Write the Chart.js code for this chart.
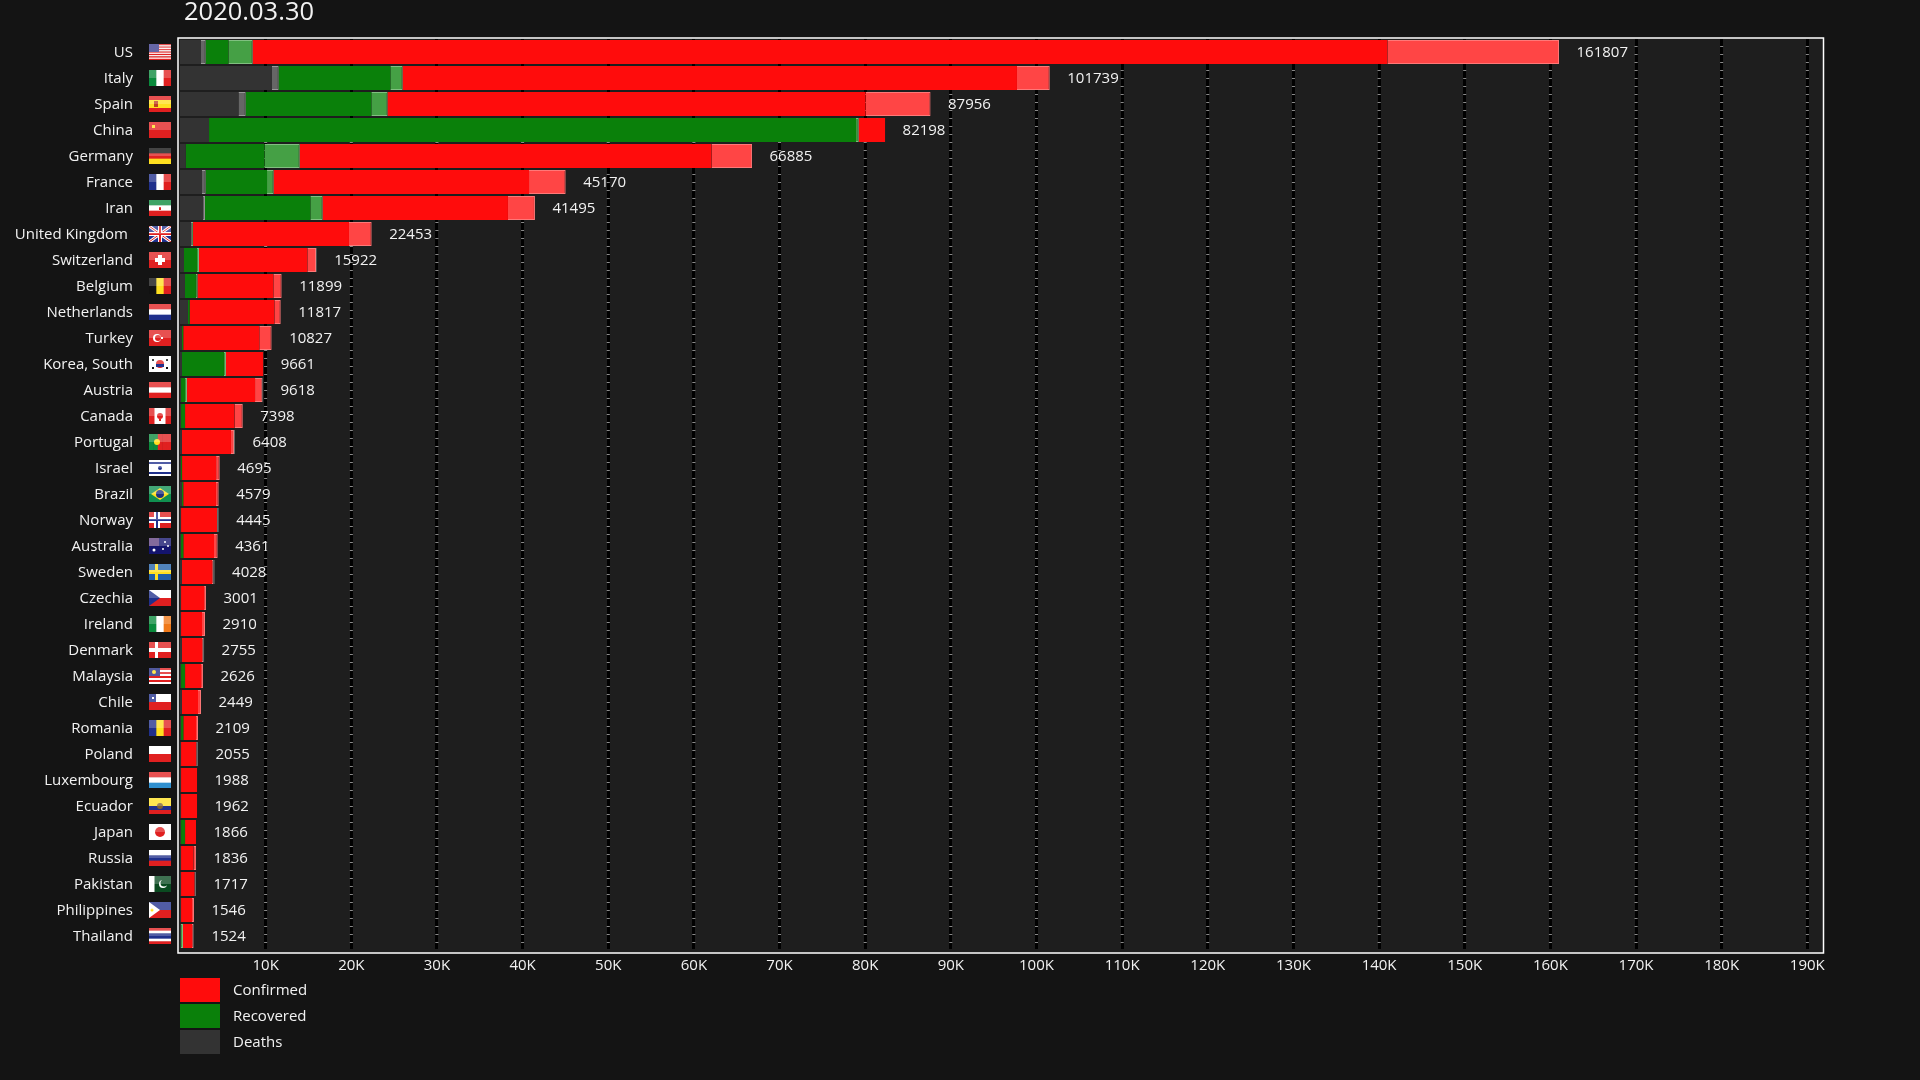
<!DOCTYPE html>
<html>
<head>
<meta charset="utf-8">
<title>2020.03.30</title>
<script src="https://cdn.jsdelivr.net/npm/chart.js@4"></script>
<style>
  html, body { margin: 0; background: #141414; }
  canvas { display: block; }
</style>
</head>
<body>
<canvas id="chart" width="1920" height="1080"></canvas>
<script>
const DATE_LABEL = '2020.03.30';
const countries = ['US', 'Italy', 'Spain', 'China', 'Germany', 'France', 'Iran', 'United Kingdom', 'Switzerland', 'Belgium', 'Netherlands', 'Turkey', 'Korea, South', 'Austria', 'Canada', 'Portugal', 'Israel', 'Brazil', 'Norway', 'Australia', 'Sweden', 'Czechia', 'Ireland', 'Denmark', 'Malaysia', 'Chile', 'Romania', 'Poland', 'Luxembourg', 'Ecuador', 'Japan', 'Russia', 'Pakistan', 'Philippines', 'Thailand'];
const totals = [161807, 101739, 87956, 82198, 66885, 45170, 41495, 22453, 15922, 11899, 11817, 10827, 9661, 9618, 7398, 6408, 4695, 4579, 4445, 4361, 4028, 3001, 2910, 2755, 2626, 2449, 2109, 2055, 1988, 1962, 1866, 1836, 1717, 1546, 1524];
const tickValues = [10000, 20000, 30000, 40000, 50000, 60000, 70000, 80000, 90000, 100000, 110000, 120000, 130000, 140000, 150000, 160000, 170000, 180000, 190000];
const tickLabels = ['10K', '20K', '30K', '40K', '50K', '60K', '70K', '80K', '90K', '100K', '110K', '120K', '130K', '140K', '150K', '160K', '170K', '180K', '190K'];

// stacked from the left: deaths, recovered, then what's left of confirmed. *New = the lighter end piece
const deaths       = [2450, 10740, 6810, 3390, 670, 2570, 2690, 1280, 470, 580, 930, 230, 230, 120, 120, 230, 120, 230, 120, 120, 230, 120, 120, 230, 120, 230, 120, 120, 120, 120, 120, 120, 120, 120, 120];
const deathsNew    = [550, 780, 860, 0, 0, 430, 230, 120, 0, 0, 0, 0, 0, 0, 0, 0, 0, 0, 0, 0, 0, 0, 0, 0, 0, 0, 0, 0, 0, 0, 0, 0, 0, 0, 0];
const recovered    = [2640, 13030, 14660, 75540, 9180, 7160, 12290, 0, 1520, 1280, 200, 150, 4900, 470, 470, 0, 120, 150, 0, 270, 0, 0, 0, 0, 470, 0, 270, 0, 0, 0, 470, 0, 0, 0, 0];
const recoveredNew = [2850, 1450, 1910, 320, 4130, 780, 1450, 120, 230, 200, 0, 0, 230, 230, 0, 0, 0, 0, 0, 0, 0, 0, 0, 0, 0, 0, 0, 0, 0, 0, 0, 0, 0, 0, 230];
const confirmed    = [132470, 71720, 55810, 3070, 48070, 29810, 21630, 18210, 12640, 8830, 9880, 8870, 4350, 7940, 5760, 5720, 3970, 3820, 4200, 3580, 3500, 2690, 2450, 2340, 1870, 1870, 1480, 1750, 1870, 1870, 1280, 1440, 1550, 1280, 1050];
const confirmedNew = [20050, 3830, 7580, 0, 4740, 4280, 3150, 2650, 1020, 980, 750, 1450, 0, 850, 980, 350, 430, 320, 0, 430, 150, 230, 350, 120, 230, 350, 230, 80, 0, 0, 0, 320, 80, 230, 150];
const trailing     = [0, 0, 0, 0, 0, 0, 0, 0, 80, 0, 0, 0, 0, 80, 0, 120, 0, 0, 200, 0, 160, 0, 0, 120, 0, 0, 0, 150, 0, 0, 0, 0, 120, 0, 80];

const legendNames = ['Confirmed', 'Recovered', 'Deaths'];
const legendColors = ['#ff0c0c', '#0a800a', '#333333'];

const FONT = '15px "Open Sans"';
const TEXT = '#f2f2f2';

// flag stripes: [direction, colours], extras drawn on top (22x16 box)
const R = '#e02020', W = '#ffffff', B = '#20308c', G = '#0a8a3c', Y = '#ffe020', K = '#111111';
const flags = {
  'US': ['h', [R, W, R, W, R, W, R, W, R, W, R, W, R], (c) => box(c, 0, 0, 10, 8, '#3c3b8e')],
  'Italy': ['v', [G, W, R]],
  'Spain': ['h', [R, Y, Y, R], (c) => box(c, 5, 5, 4, 6, '#c04020')],
  'China': ['h', [R], (c) => box(c, 3, 3, 3, 3, Y)],
  'Germany': ['h', [K, R, Y]],
  'France': ['v', [B, W, R]],
  'Iran': ['h', [G, W, R], (c) => box(c, 10, 7, 2, 3, R)],
  'United Kingdom': ['h', [B], (c) => {
    line(c, 0, 0, 22, 16, W, 3); line(c, 22, 0, 0, 16, W, 3);
    line(c, 0, 0, 22, 16, R, 1); line(c, 22, 0, 0, 16, R, 1);
    box(c, 9, 0, 4, 16, W); box(c, 0, 6, 22, 4, W);
    box(c, 10, 0, 2, 16, R); box(c, 0, 7, 22, 2, R);
  }],
  'Switzerland': ['h', [R], (c) => { box(c, 9, 3, 4, 10, W); box(c, 6, 6, 10, 4, W); }],
  'Belgium': ['v', [K, Y, R]],
  'Netherlands': ['h', [R, W, B]],
  'Turkey': ['h', [R], (c) => { dot(c, 8, 8, 4, W); dot(c, 9, 8, 3, R); box(c, 12, 7, 2, 2, W); }],
  'Korea, South': ['h', [W], (c) => { dot(c, 11, 8, 4, R); box(c, 7, 8, 8, 3, B); box(c, 3, 3, 2, 2, K); box(c, 17, 3, 2, 2, K); box(c, 3, 11, 2, 2, K); box(c, 17, 11, 2, 2, K); }],
  'Austria': ['h', [R, W, R]],
  'Canada': ['v', [R, W, W, R], (c) => { dot(c, 11, 8, 3, R); box(c, 10, 11, 2, 2, R); }],
  'Portugal': ['v', [G, G, R, R, R], (c) => dot(c, 8, 8, 3, Y)],
  'Israel': ['h', [W], (c) => { box(c, 0, 2, 22, 2, B); box(c, 0, 12, 22, 2, B); dot(c, 11, 8, 2, B); }],
  'Brazil': ['h', ['#109050'], (c) => { tri(c, [[11, 2], [20, 8], [11, 14], [2, 8]], Y); dot(c, 11, 8, 4, '#203080'); }],
  'Norway': ['h', [R], (c) => { box(c, 5, 0, 6, 16, W); box(c, 0, 5, 22, 6, W); box(c, 7, 0, 2, 16, B); box(c, 0, 7, 22, 2, B); }],
  'Australia': ['h', ['#14146e'], (c) => { box(c, 0, 0, 10, 8, '#604080'); dot(c, 5, 12, 1.5, W); dot(c, 16, 4, 1, W); dot(c, 19, 8, 1, W); dot(c, 14, 11, 1, W); }],
  'Sweden': ['h', ['#2060a8'], (c) => { box(c, 6, 0, 3, 16, Y); box(c, 0, 6, 22, 4, Y); }],
  'Czechia': ['h', [W, R], (c) => tri(c, [[0, 0], [11, 8], [0, 16]], B)],
  'Ireland': ['v', [G, W, '#f07818']],
  'Denmark': ['h', [R], (c) => { box(c, 6, 0, 3, 16, W); box(c, 0, 6, 22, 4, W); }],
  'Malaysia': ['h', [R, W, R, W, R, W, R, W], (c) => { box(c, 0, 0, 11, 8, '#202a80'); dot(c, 5, 4, 2, Y); }],
  'Chile': ['h', [W, R], (c) => { box(c, 0, 0, 7, 8, B); box(c, 3, 3, 2, 2, W); }],
  'Romania': ['v', [B, Y, R]],
  'Poland': ['h', [W, R]],
  'Luxembourg': ['h', [R, W, '#3090d0']],
  'Ecuador': ['h', [Y, Y, B, R], (c) => dot(c, 11, 8, 3, '#806030')],
  'Japan': ['h', [W], (c) => dot(c, 11, 8, 5, R)],
  'Russia': ['h', [W, B, R]],
  'Pakistan': ['v', [W, '#0a4a20', '#0a4a20', '#0a4a20'], (c) => { dot(c, 14, 8, 4, W); dot(c, 15, 7, 3.5, '#0a4a20'); }],
  'Philippines': ['h', [B, R], (c) => { tri(c, [[0, 0], [11, 8], [0, 16]], W); dot(c, 3, 8, 1.5, Y); }],
  'Thailand': ['h', [R, W, B, B, W, R]]
};

function box(c, x, y, w, h, col) { c.fillStyle = col; c.fillRect(x, y, w, h); }
function dot(c, x, y, r, col) { c.fillStyle = col; c.beginPath(); c.arc(x, y, r, 0, Math.PI * 2); c.fill(); }
function line(c, x1, y1, x2, y2, col, w) { c.strokeStyle = col; c.lineWidth = w; c.beginPath(); c.moveTo(x1, y1); c.lineTo(x2, y2); c.stroke(); }
function tri(c, pts, col) {
  c.fillStyle = col; c.beginPath();
  pts.forEach((p, i) => i ? c.lineTo(p[0], p[1]) : c.moveTo(p[0], p[1]));
  c.closePath(); c.fill();
}

function drawFlag(c, name, x, y) {
  const [dir, cols, extra] = flags[name];
  c.save();
  c.translate(x, y);
  c.beginPath(); c.rect(0, 0, 22, 16); c.clip();
  cols.forEach((col, i) => {
    c.fillStyle = col;
    if (dir === 'h') c.fillRect(0, i * 16 / cols.length, 22, 16 / cols.length + .5);
    else c.fillRect(i * 22 / cols.length, 0, 22 / cols.length + .5, 16);
  });
  if (extra) extra(c);
  // glossy top half like the icon set
  c.fillStyle = 'rgba(255,255,255,.22)';
  c.fillRect(0, 0, 22, 8);
  c.restore();
}

const boardPlugin = {
  id: 'board',
  afterUpdate(chart) {
    // nudge country names: 1px down, United Kingdom sits further left in the original
    chart.scales.y.getLabelItems().forEach(item => {
      item.options.translation[1] += 1;
      if (item.label === 'United Kingdom') item.options.translation[0] -= 5;
    });
  },
  beforeDraw(chart) {
    const c = chart.ctx;
    c.fillStyle = '#1e1e1e';
    c.fillRect(178, 38, 1646, 915);
  },
  beforeDatasetsDraw(chart) {
    // small grey dashes inside the black grid lines
    const c = chart.ctx, xs = chart.scales.x, a = chart.chartArea;
    c.save();
    c.strokeStyle = '#8a8a8a';
    c.lineWidth = 3;
    c.setLineDash([1, 7]);
    xs.ticks.forEach(t => {
      const px = xs.getPixelForValue(t.value);
      c.beginPath(); c.moveTo(px, a.top + 7); c.lineTo(px, a.bottom); c.stroke();
    });
    c.restore();
  },
  afterDraw(chart) {
    const c = chart.ctx, xs = chart.scales.x, ys = chart.scales.y;
    c.save();
    // frame
    c.strokeStyle = '#ffffff';
    c.lineWidth = 1.5;
    c.strokeRect(178, 38, 1645.5, 915);
    // date
    c.fillStyle = TEXT;
    c.textBaseline = 'middle';
    c.font = '25.5px "Open Sans"';
    c.fillText(DATE_LABEL, 184, 13);
    c.font = FONT;
    countries.forEach((name, i) => {
      const y = ys.getPixelForValue(i);
      let end = 0;
      chart.data.datasets.forEach(d => { end += d.data[i]; });
      c.fillStyle = TEXT;
      c.fillText(totals[i], xs.getPixelForValue(end) + 17.5, y + 1);
      drawFlag(c, name, 149, y - 8);
    });
    // legend
    legendNames.forEach((name, i) => {
      c.fillStyle = legendColors[i];
      c.fillRect(180, 978 + i * 26, 40, 24);
      c.fillStyle = TEXT;
      c.fillText(name, 233, 991 + i * 26);
    });
    c.restore();
  }
};

function segment(label, data, fill, edge) {
  return { label, data, backgroundColor: fill, borderColor: edge, borderWidth: edge ? 1 : 0 };
}

new Chart(document.getElementById('chart'), {
  type: 'bar',
  data: {
    labels: countries,
    datasets: [
      segment('Deaths', deaths, legendColors[2]),
      segment('Deaths new', deathsNew, '#666666', '#999999'),
      segment('Recovered', recovered, legendColors[1]),
      segment('Recovered new', recoveredNew, '#45a045', '#80c080'),
      segment('Confirmed', confirmed, legendColors[0]),
      segment('Confirmed new', confirmedNew, '#ff4545', '#ff7878'),
      segment('Trailing', trailing, '#6a6a6a')
    ]
  },
  options: {
    indexAxis: 'y',
    responsive: false,
    animation: false,
    layout: { autoPadding: false, padding: { top: 39, right: 97, bottom: 101, left: 0 } },
    datasets: { bar: { barPercentage: 24 / 26, categoryPercentage: 1 } },
    plugins: { legend: { display: false }, tooltip: { enabled: false } },
    scales: {
      x: {
        stacked: true,
        min: 0,
        max: 191830,
        afterBuildTicks: (s) => { s.ticks = tickValues.map(value => ({ value })); },
        afterFit: (s) => { s.height = 30; },
        border: { display: false, dash: [7, 1] },
        grid: { color: '#000000', lineWidth: 3, drawTicks: false },
        ticks: {
          autoSkip: false, maxRotation: 0, padding: 8,
          color: TEXT, font: { family: 'Open Sans', size: 15 },
          callback: (v) => tickLabels[tickValues.indexOf(v)]
        }
      },
      y: {
        stacked: true,
        // the big tick padding would otherwise push the plot area down
        afterFit: (s) => { s.width = 180; s.paddingTop = 0; s.paddingBottom = 0; },
        border: { display: false },
        grid: { display: false, drawTicks: false },
        ticks: { autoSkip: false, padding: 47, color: TEXT, font: { family: 'Open Sans', size: 15 } }
      }
    }
  },
  plugins: [boardPlugin]
});
</script>
</body>
</html>
